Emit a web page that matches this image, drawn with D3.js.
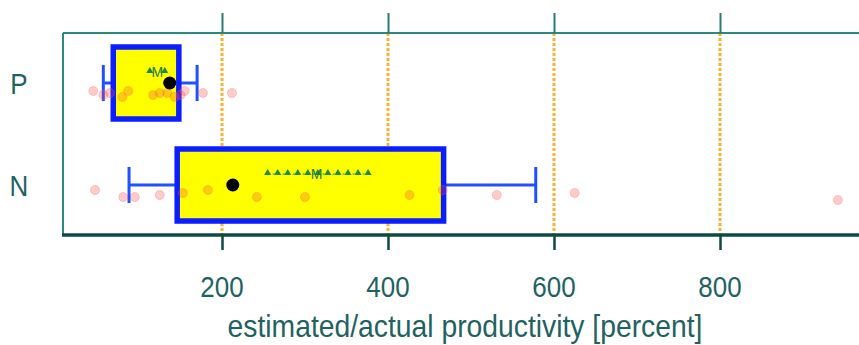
<!DOCTYPE html>
<html><head><meta charset="utf-8">
<script src="https://cdn.jsdelivr.net/npm/d3@7"></script>
<style>
html,body{margin:0;padding:0;background:#fff;}
svg{display:block;}
</style></head>
<body>
<svg id="chart" width="859" height="345"></svg>
<script>
// ---- data ----
const categories = ["P", "N"];
const tickValues = [200, 400, 600, 800];
const axisTitle = "estimated/actual productivity [percent]";
// box stats: [whiskerLow, Q1, median, Q3, whiskerHigh]
const boxP = [57, 69, 137, 148, 170];
const boxN = [88, 146, 213, 467, 578];
// mean and standard error band
const meanP = 122, seLowP = 113, seHighP = 131;
const meanN = 314, seLowN = 255, seHighN = 376;
// individual observations and their vertical jitter (px)
const pointsP = [45, 57, 65, 80, 87, 117, 125, 134, 143, 150, 155, 177, 212];
const jitterP = [8, 12, 10, 14, 8, 12, 10, 10, 14, 12, 8, 10, 10];
const pointsN = [47, 81, 95, 125, 153, 183, 242, 300, 426, 466, 531, 625, 942];
const jitterN = [5, 12, 12, 10, 8, 5, 12, 12, 10, 5, 10, 8, 15];

const groups = [
  {name: "P", box: boxP, mean: meanP, seLo: seLowP, seHi: seHighP, pts: pointsP, jit: jitterP},
  {name: "N", box: boxN, mean: meanN, seLo: seLowN, seHi: seHighN, pts: pointsN, jit: jitterN}
];

const svg = d3.select("#chart");
const W = 859;
const mLeft = 63, mTop = 33, mBottom = 235;
const x = d3.scaleLinear().domain([0, 1000]).range([56, 886]);
const y = d3.scaleBand().domain(categories).range([32, 236]);
const yc = c => y(c) + y.bandwidth() / 2;
const boxH = 72;
const textCol = "#1f6262";
const font = "'Liberation Sans', Arial, sans-serif";

// grid lines
svg.append("g").selectAll("line").data(tickValues).join("line")
  .attr("x1", d => x(d)).attr("x2", d => x(d))
  .attr("y1", mTop).attr("y2", mBottom)
  .attr("stroke", "#ffb030").attr("stroke-width", 3)
  .attr("stroke-dasharray", "3,2");

const gb = svg.append("g");
groups.forEach(g => {
  const cy = yc(g.name);
  const b = g.box;
  gb.append("line").attr("x1", x(b[0])).attr("x2", x(b[1])).attr("y1", cy).attr("y2", cy)
    .attr("stroke", "#2050ff").attr("stroke-width", 3);
  gb.append("line").attr("x1", x(b[3])).attr("x2", x(b[4])).attr("y1", cy).attr("y2", cy)
    .attr("stroke", "#2050ff").attr("stroke-width", 3);
  [b[0], b[4]].forEach(v => {
    gb.append("line").attr("x1", x(v)).attr("x2", x(v)).attr("y1", cy - 18).attr("y2", cy + 18)
      .attr("stroke", "#2050ff").attr("stroke-width", 3);
  });
  gb.append("rect").attr("x", x(b[1])).attr("y", cy - boxH / 2)
    .attr("width", x(b[3]) - x(b[1])).attr("height", boxH)
    .attr("fill", "#ffff00").attr("stroke", "#0a1eff").attr("stroke-width", 5.5);
});

// points
groups.forEach(g => {
  const cy = yc(g.name);
  svg.append("g").selectAll("circle").data(g.pts).join("circle")
    .attr("cx", d => x(d)).attr("cy", (d, i) => cy + g.jit[i])
    .attr("r", 4.5)
    .attr("fill", "#ff4040").attr("fill-opacity", 0.27)
    .attr("stroke", "#ff6060").attr("stroke-opacity", 0.3).attr("stroke-width", 1);
});

// SE band with triangle markers, M, and median dot
groups.forEach(g => {
  const cy = yc(g.name) - 12;
  const step = 10;
  const n = Math.max(1, Math.round((x(g.seHi) - x(g.seLo)) / step));
  const tri = d3.symbol().type(d3.symbolTriangle).size(22);
  const pos = d3.range(n + 1).map(i => x(g.seLo) + i * (x(g.seHi) - x(g.seLo)) / n);
  svg.append("g").selectAll("path").data(pos).join("path")
    .attr("transform", d => `translate(${d},${cy})`)
    .attr("d", tri).attr("fill", "#1f8a4a");
  svg.append("line").attr("x1", x(g.seLo)).attr("x2", x(g.seHi)).attr("y1", cy + 1).attr("y2", cy + 1)
    .attr("stroke", "#1f8a4a").attr("stroke-width", 1).attr("stroke-dasharray", "2,3");
  svg.append("text").attr("x", x(g.mean)).attr("y", cy + 6)
    .attr("text-anchor", "middle").attr("font-family", font).attr("font-size", 14)
    .attr("fill", "#1f7a44").text("M");
  svg.append("circle").attr("cx", x(g.box[2])).attr("cy", yc(g.name)).attr("r", 6.5).attr("fill", "#000");
});

// frame
svg.append("line").attr("x1", mLeft).attr("x2", W).attr("y1", mTop).attr("y2", mTop)
  .attr("stroke", "#2a8a80").attr("stroke-width", 2);
svg.append("line").attr("x1", mLeft).attr("x2", mLeft).attr("y1", mTop).attr("y2", mBottom)
  .attr("stroke", "#2a8a80").attr("stroke-width", 2);
svg.append("line").attr("x1", mLeft - 1).attr("x2", W).attr("y1", mBottom).attr("y2", mBottom)
  .attr("stroke", "#0e4a44").attr("stroke-width", 3.5);

// axis ticks
const axB = d3.axisBottom(x).tickValues(tickValues).tickSize(15).tickFormat("");
const gB = svg.append("g").attr("transform", `translate(0,${mBottom})`).call(axB);
gB.select(".domain").remove();
gB.selectAll(".tick line").attr("stroke", "#0e4a44").attr("stroke-width", 2.5);
const axT = d3.axisTop(x).tickValues(tickValues).tickSize(20).tickFormat("");
const gT = svg.append("g").attr("transform", `translate(0,${mTop})`).call(axT);
gT.select(".domain").remove();
gT.selectAll(".tick line").attr("stroke", "#2a7a74").attr("stroke-width", 2);

// tick labels
svg.append("g").selectAll("text").data(tickValues).join("text")
  .attr("transform", d => `translate(${x(d)},297) scale(1,1.15)`)
  .attr("text-anchor", "middle").attr("font-family", font).attr("font-size", 26)
  .attr("fill", textCol).text(d => d3.format("d")(d));

// category labels
svg.append("g").selectAll("text").data(categories).join("text")
  .attr("transform", d => `translate(19,${yc(d) + 11}) scale(1,1.15)`)
  .attr("text-anchor", "middle").attr("font-family", font).attr("font-size", 26)
  .attr("fill", textCol).text(d => d);

// axis title
svg.append("text")
  .attr("transform", `translate(465,337) scale(1,1.1)`)
  .attr("text-anchor", "middle").attr("font-family", font).attr("font-size", 28.3)
  .attr("fill", textCol).text(axisTitle);
</script>
</body></html>
